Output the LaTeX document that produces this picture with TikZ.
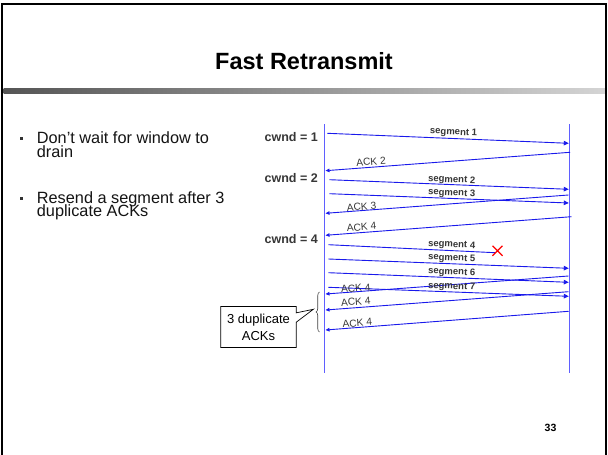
\documentclass[tikz,border=0pt]{standalone}
\usepackage{fontspec}
\setmainfont{Liberation Sans}
\usetikzlibrary{arrows.meta,decorations.pathreplacing,calc}
\definecolor{lifeblue}{RGB}{95,95,255}
\definecolor{msgblue}{RGB}{25,25,235}
\definecolor{labgray}{RGB}{55,55,55}
\definecolor{barleft}{RGB}{85,85,85}
\definecolor{barright}{RGB}{212,212,212}
\begin{document}
\begin{tikzpicture}[x=1pt,y=-1pt,
  lifeline/.style={draw=lifeblue, line width=1.3pt},
  seg/.style={draw=msgblue, line width=0.9pt, -{Triangle[length=5pt,width=4.5pt]}},
  lostseg/.style={draw=msgblue, line width=0.9pt},
  ack/.style={draw=msgblue, line width=0.9pt, -{Triangle[length=4pt,width=3.5pt]}},
  seglbl/.style={font=\bfseries\fontsize{9.5}{11}\selectfont, text=labgray, inner sep=0pt},
  acklbl/.style={font=\fontsize{10.2}{12}\selectfont, text=labgray, inner sep=0pt},
  cwndlbl/.style={font=\bfseries\fontsize{12.5}{14}\selectfont, text=labgray, anchor=east, inner sep=0pt},
  bullettxt/.style={font=\fontsize{16.3}{19}\selectfont, anchor=base west, inner sep=0pt, text=black!92},
  bulletmark/.style={fill=black!80, minimum size=3pt, inner sep=0pt}
]
\useasboundingbox (0,0) rectangle (608,455);
\fill[white] (0,0) rectangle (608,455);

% slide frame and title bar
\draw[line width=2.5pt, line join=miter] (2.2,455) -- (2.2,4) -- (606,4) -- (606,455);
\shade[left color=barleft, right color=barright] (3.5,88) rectangle (604.8,93.5);
\node[font=\bfseries\fontsize{23.5}{28}\selectfont, anchor=base] (title) at (304,69) {Fast Retransmit};

% bullet list
\node[bulletmark] (b1) at (21.7,138.6) {};
\node[bullettxt] (t1a) at (36.7,143.6) {Don’t wait for window to};
\node[bullettxt] (t1b) at (36.7,157) {drain};
\node[bulletmark] (b2) at (21.7,198.3) {};
\node[bullettxt] (t2a) at (36.7,203.3) {Resend a segment after 3};
\node[bullettxt] (t2b) at (36.7,216.7) {duplicate ACKs};

% lifelines
\coordinate (ltop) at (324.5,124);
\coordinate (lbot) at (324.5,372.5);
\coordinate (rtop) at (569.5,124);
\coordinate (rbot) at (569.5,373);
\draw[lifeline] (ltop) -- (lbot);
\draw[lifeline] (rtop) -- (rbot);

% congestion window labels
\node[cwndlbl] (cw1) at (318,136.7) {cwnd = 1};
\node[cwndlbl] (cw2) at (318,178) {cwnd = 2};
\node[cwndlbl] (cw4) at (318,238.7) {cwnd = 4};

% message end points
\coordinate (s1a) at (327.3,133.3); \coordinate (s1b) at (568.8,143.3);
\coordinate (a2a) at (570,152.3);   \coordinate (a2b) at (325.5,170.7);
\coordinate (s2a) at (329.3,179.7); \coordinate (s2b) at (568.8,189.3);
\coordinate (s3a) at (329.3,193.7); \coordinate (s3b) at (568.8,203);
\coordinate (a3a) at (568.5,195);   \coordinate (a3b) at (325.5,213.3);
\coordinate (a4a) at (571.5,216.7); \coordinate (a4b) at (325.5,235.3);
\coordinate (s4a) at (328.3,244.7); \coordinate (s4b) at (495,252.7);
\coordinate (s5a) at (328.3,259);   \coordinate (s5b) at (568.8,268.3);
\coordinate (s6a) at (328.3,272.7); \coordinate (s6b) at (568.8,282.3);
\coordinate (s7a) at (328.3,287.3); \coordinate (s7b) at (568.8,296.3);
\coordinate (d1a) at (568.5,276);   \coordinate (d1b) at (325.5,294);
\coordinate (d2a) at (568.5,291.7); \coordinate (d2b) at (325.5,310);
\coordinate (d3a) at (568.5,311.3); \coordinate (d3b) at (325.5,330);

% segments and acknowledgements
\draw[seg] (s1a) -- (s1b);
\draw[ack] (a2a) -- (a2b);
\draw[seg] (s2a) -- (s2b);
\draw[seg] (s3a) -- (s3b);
\draw[ack] (a3a) -- (a3b);
\draw[ack] (a4a) -- (a4b);
\draw[lostseg] (s4a) -- (s4b);
\draw[seg] (s5a) -- (s5b);
\draw[seg] (s6a) -- (s6b);
\draw[seg] (s7a) -- (s7b);
\draw[ack] (d1a) -- (d1b);
\draw[ack] (d2a) -- (d2b);
\draw[ack] (d3a) -- (d3b);

% message labels
\node[seglbl, rotate=-2.4] (ls1) at (453.5,132.5) {segment 1};
\node[acklbl, rotate=4.3] (la2) at (371,161.7) {ACK 2};
\node[seglbl, rotate=-2.3] (ls2) at (451.7,180) {segment 2};
\node[seglbl, rotate=-2.2] (ls3) at (451.7,193.3) {segment 3};
\node[acklbl, rotate=4.3] (la3) at (361.5,206.7) {ACK 3};
\node[acklbl, rotate=4.4] (la4) at (361.5,227) {ACK 4};
\node[seglbl, rotate=-2.7] (ls4) at (451.7,245) {segment 4};
\node[seglbl, rotate=-2.2] (ls5) at (451.7,258.3) {segment 5};
\node[seglbl, rotate=-2.3] (ls6) at (451.7,272.3) {segment 6};
\node[seglbl, rotate=-2.1] (ls7) at (451.7,286.7) {segment 7};
\node[acklbl, rotate=4.3] (ld1) at (355.8,288.3) {ACK 4};
\node[acklbl, rotate=4.3] (ld2) at (355.8,301.7) {ACK 4};
\node[acklbl, rotate=4.4] (ld3) at (357.2,323) {ACK 4};

% loss marker
\coordinate (lost) at (497.5,250.8);
\draw[red, line width=1.3pt] ($(lost)+(-5,-5)$) -- ($(lost)+(5,5)$)
                             ($(lost)+(-5,5)$) -- ($(lost)+(5,-5)$);

% brace over the duplicate acknowledgements
\draw[black!75, line width=0.6pt, decorate, decoration={brace, amplitude=3.5pt}]
  (319.5,332) -- (319.5,292);
\coordinate (bt) at (313.3,309.3);

% callout
\node[font=\fontsize{13}{17}\selectfont, align=center, minimum width=75pt,
      minimum height=40.5pt, inner sep=0pt] (dup) at (258.5,327) {3 duplicate\\ACKs};
\draw[black, line width=0.7pt, line join=miter]
  (dup.north east) -- (dup.north west) -- (dup.south west) -- (dup.south east)
  -- ($(dup.north east)+(0,15.7)$) -- (bt) -- ($(dup.north east)+(0,6.3)$) -- cycle;

% page number
\node[font=\bfseries\fontsize{10.5}{12}\selectfont, anchor=base] (pnum) at (550.5,431.7) {33};
\end{tikzpicture}
\end{document}
